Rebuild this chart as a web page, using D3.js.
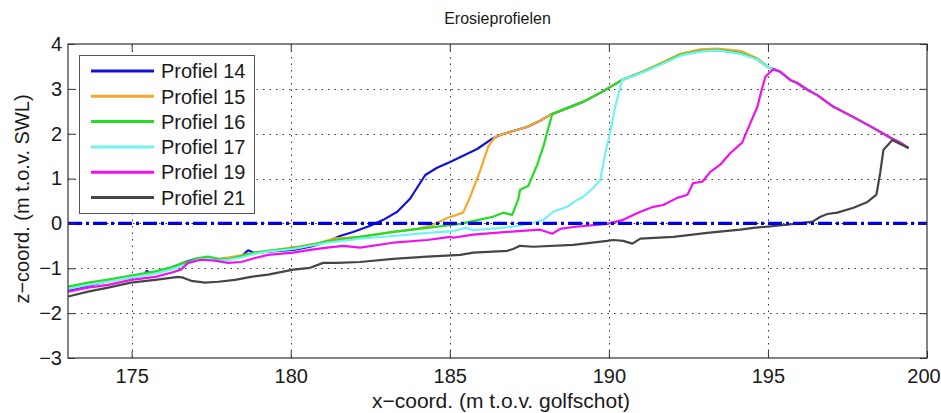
<!DOCTYPE html>
<html><head><meta charset="utf-8">
<script src="https://cdn.jsdelivr.net/npm/d3@7"></script>
<style>
body{margin:0;background:#fff}
svg{display:block}
text{font-family:"Liberation Sans",Arial,Helvetica,sans-serif;fill:#1a1a1a}
</style>
</head><body>
<svg id="chart" width="941" height="413"></svg>
<script>
// ---- data ----
const chartTitle = "Erosieprofielen";
const xLabel = "x\u2212coord. (m t.o.v. golfschot)";
const zLabel = "z\u2212coord. (m t.o.v. SWL)";
const xTicks = [175, 180, 185, 190, 195, 200];
const zTicks = [-3, -2, -1, 0, 1, 2, 3, 4];
const seriesNames = ["Profiel 14", "Profiel 15", "Profiel 16", "Profiel 17", "Profiel 19", "Profiel 21"];

const profiel14 = [[173.00,-1.48],[173.63,-1.39],[174.26,-1.29],[174.98,-1.19],[175.40,-1.13],[175.48,-1.06],[175.60,-1.12],[175.74,-1.09],[176.24,-0.99],[176.55,-0.90],[176.77,-0.84],[177.09,-0.78],[177.40,-0.77],[177.72,-0.81],[178.03,-0.80],[178.44,-0.74],[178.66,-0.60],[178.85,-0.66],[179.29,-0.63],[180.08,-0.59],[180.61,-0.52],[181.14,-0.41],[181.55,-0.28],[181.96,-0.19],[182.50,-0.05],[182.91,0.08],[183.35,0.26],[183.75,0.55],[184.23,1.08],[184.60,1.24],[185.01,1.37],[185.42,1.51],[185.86,1.66],[186.36,1.90],[186.58,1.97],[186.99,2.06],[187.43,2.15],[187.84,2.29],[188.16,2.42],[188.69,2.57],[189.19,2.71],[189.73,2.91],[190.42,3.20],[191.08,3.38],[191.62,3.55],[192.25,3.76],[192.87,3.84],[193.41,3.87],[194.13,3.80],[194.64,3.67],[195.04,3.47],[195.17,3.44],[195.39,3.38],[195.70,3.20],[195.92,3.13],[196.24,2.98],[196.55,2.86],[197.06,2.60],[197.69,2.37],[198.31,2.13],[198.85,1.91],[199.16,1.80],[199.42,1.68]];

const profiel15 = [[173.00,-1.44],[173.63,-1.35],[174.26,-1.27],[174.98,-1.18],[175.74,-1.08],[176.24,-0.99],[176.68,-0.88],[177.09,-0.80],[177.40,-0.77],[177.72,-0.79],[178.03,-0.76],[178.44,-0.71],[178.88,-0.65],[179.29,-0.61],[180.30,-0.51],[180.92,-0.43],[181.33,-0.34],[182.18,-0.30],[183.03,-0.21],[183.97,-0.12],[184.48,-0.03],[184.92,0.12],[185.42,0.24],[185.64,0.59],[185.96,1.19],[186.21,1.71],[186.42,1.93],[186.58,1.97],[186.99,2.06],[187.43,2.15],[187.84,2.29],[188.16,2.42],[188.69,2.57],[189.19,2.71],[189.73,2.91],[190.42,3.20],[191.08,3.39],[191.62,3.57],[192.25,3.78],[192.87,3.88],[193.41,3.90],[194.13,3.85],[194.64,3.69],[195.04,3.47],[195.17,3.44],[195.39,3.38],[195.70,3.20],[195.92,3.13],[196.24,2.98],[196.55,2.86],[197.06,2.60],[197.69,2.37],[198.31,2.13],[198.85,1.91],[199.16,1.80],[199.42,1.68]];

const profiel16 = [[173.00,-1.41],[173.63,-1.32],[174.26,-1.25],[174.98,-1.16],[175.74,-1.07],[176.24,-0.98],[176.68,-0.87],[177.09,-0.77],[177.40,-0.74],[177.72,-0.79],[178.03,-0.80],[178.44,-0.73],[178.88,-0.65],[179.29,-0.61],[180.08,-0.55],[180.61,-0.48],[181.14,-0.40],[182.18,-0.30],[183.22,-0.19],[184.29,-0.10],[185.11,-0.03],[185.33,-0.01],[186.05,0.10],[186.36,0.15],[186.68,0.24],[186.96,0.19],[187.15,0.53],[187.21,0.75],[187.47,0.84],[187.75,1.31],[187.94,1.71],[188.22,2.44],[188.69,2.57],[189.19,2.71],[189.73,2.91],[190.42,3.20],[191.08,3.38],[191.62,3.55],[192.25,3.76],[192.87,3.84],[193.41,3.87],[194.13,3.80],[194.64,3.67],[195.04,3.47],[195.17,3.44],[195.39,3.38],[195.70,3.20],[195.92,3.13],[196.24,2.98],[196.55,2.86],[197.06,2.60],[197.69,2.37],[198.31,2.13],[198.85,1.91],[199.16,1.80],[199.42,1.68]];

const profiel17 = [[173.00,-1.46],[173.63,-1.37],[174.26,-1.30],[174.98,-1.21],[175.74,-1.12],[176.24,-1.03],[176.68,-0.92],[177.09,-0.81],[177.40,-0.79],[177.72,-0.83],[178.03,-0.81],[178.44,-0.76],[178.88,-0.68],[179.29,-0.63],[180.08,-0.57],[181.14,-0.43],[182.18,-0.34],[183.22,-0.28],[184.29,-0.21],[185.11,-0.17],[185.50,-0.10],[185.74,-0.15],[186.81,-0.09],[187.62,0.01],[187.94,0.08],[188.25,0.26],[188.69,0.37],[189.01,0.53],[189.19,0.59],[189.51,0.79],[189.73,0.97],[189.89,1.57],[190.04,2.02],[190.20,2.60],[190.42,3.20],[191.08,3.37],[191.62,3.54],[192.25,3.74],[192.87,3.83],[193.41,3.86],[194.13,3.78],[194.64,3.66],[195.04,3.47],[195.17,3.44],[195.39,3.38],[195.70,3.20],[195.92,3.13],[196.24,2.98],[196.55,2.86],[197.06,2.60],[197.69,2.37],[198.31,2.13],[198.85,1.91],[199.16,1.80],[199.42,1.68]];

const profiel19 = [[173.00,-1.52],[173.63,-1.43],[174.26,-1.37],[174.98,-1.26],[175.74,-1.19],[176.24,-1.10],[176.55,-1.03],[176.77,-0.88],[177.18,-0.81],[177.62,-0.83],[178.03,-0.88],[178.44,-0.86],[178.88,-0.77],[179.29,-0.70],[180.08,-0.65],[180.61,-0.59],[181.14,-0.54],[181.65,-0.50],[182.18,-0.54],[183.22,-0.43],[184.29,-0.37],[185.01,-0.30],[185.11,-0.32],[185.74,-0.25],[186.81,-0.19],[187.84,-0.14],[188.06,-0.19],[188.22,-0.23],[188.47,-0.12],[188.88,-0.08],[189.95,-0.01],[190.45,0.08],[190.99,0.26],[191.40,0.37],[191.71,0.41],[192.15,0.57],[192.47,0.64],[192.65,0.90],[192.94,0.93],[193.19,1.15],[193.50,1.31],[193.82,1.57],[194.19,1.80],[194.45,2.24],[194.67,2.60],[194.76,2.86],[194.92,3.27],[195.17,3.44],[195.39,3.38],[195.70,3.20],[195.92,3.13],[196.24,2.98],[196.55,2.86],[197.06,2.60],[197.69,2.37],[198.31,2.13],[198.85,1.91],[199.16,1.80],[199.42,1.68]];

const profiel21 = [[173.00,-1.63],[173.63,-1.52],[174.26,-1.43],[174.98,-1.32],[175.74,-1.26],[176.46,-1.19],[176.62,-1.21],[176.87,-1.28],[177.31,-1.32],[177.72,-1.30],[178.25,-1.26],[178.75,-1.19],[179.29,-1.14],[180.08,-1.03],[180.61,-0.99],[181.02,-0.88],[181.46,-0.88],[182.18,-0.86],[183.22,-0.79],[184.29,-0.74],[185.33,-0.70],[185.74,-0.65],[186.81,-0.61],[186.99,-0.57],[187.21,-0.50],[187.62,-0.52],[188.88,-0.48],[189.95,-0.39],[190.14,-0.37],[190.45,-0.39],[190.74,-0.45],[190.99,-0.34],[192.03,-0.30],[193.09,-0.21],[194.13,-0.14],[194.54,-0.10],[195.61,-0.03],[196.40,0.04],[196.65,0.15],[196.87,0.21],[197.18,0.24],[197.69,0.35],[198.13,0.48],[198.41,0.64],[198.53,1.13],[198.63,1.64],[198.91,1.86],[199.16,1.77],[199.42,1.68]];

const swlLevel = [0];

// ---- styles ----
const seriesColors = ["#1111dd", "#f5a82a", "#22dd22", "#6ff3f3", "#f011f0", "#454545"];
const W = 941, H = 413;
const M = {left: 68, right: 14, top: 44, bottom: 55};

const svg = d3.select("#chart");
const x = d3.scaleLinear().domain([173, 200]).range([M.left, W - M.right]);
const y = d3.scaleLinear().domain([-3, 4]).range([H - M.bottom, M.top]);

const allSeries = [profiel14, profiel15, profiel16, profiel17, profiel19, profiel21];

svg.append("defs").append("clipPath").attr("id", "clip")
  .append("rect").attr("x", M.left).attr("y", M.top)
  .attr("width", x.range()[1] - M.left).attr("height", y.range()[0] - M.top);

// grid
const grid = svg.append("g").attr("stroke", "#333").attr("stroke-width", 1).attr("stroke-dasharray", "1.5,5");
grid.selectAll("line.v").data(xTicks.filter(d => d > 173 && d < 200)).join("line")
  .attr("x1", d => Math.round(x(d)) + 0.5).attr("x2", d => Math.round(x(d)) + 0.5)
  .attr("y1", y(4)).attr("y2", y(-3));
grid.selectAll("line.h").data(zTicks.filter(d => d > -3 && d < 4)).join("line")
  .attr("y1", d => Math.round(y(d)) + 0.5).attr("y2", d => Math.round(y(d)) + 0.5)
  .attr("x1", x(173)).attr("x2", x(200));

// series
const lineGen = d3.line().x(d => x(d[0])).y(d => y(d[1]));
const plotG = svg.append("g").attr("clip-path", "url(#clip)");
plotG.selectAll("path.s").data(allSeries).join("path")
  .attr("fill", "none")
  .attr("stroke", (d, i) => seriesColors[i])
  .attr("stroke-width", 2.2)
  .attr("stroke-linejoin", "round")
  .attr("d", lineGen);

// SWL line
plotG.selectAll("line.swl").data(swlLevel).join("line")
  .attr("x1", x(173)).attr("x2", x(200))
  .attr("y1", d => y(d)).attr("y2", d => y(d))
  .attr("stroke", "#0000e6").attr("stroke-width", 3.2)
  .attr("stroke-dasharray", "14,4,3,4");

// axes
const fmt = d3.format("d");
const axG = svg.append("g");
const bx = axG.append("g").attr("transform", `translate(0,${y(-3)})`)
  .call(d3.axisBottom(x).tickValues(xTicks).tickFormat(fmt).tickSize(-7).tickPadding(11));
axG.append("g").attr("transform", `translate(0,${y(4)})`)
  .call(d3.axisTop(x).tickValues(xTicks).tickSize(-7).tickFormat(""));
axG.append("g").attr("transform", `translate(${x(173)},0)`)
  .call(d3.axisLeft(y).tickValues(zTicks).tickFormat(fmt).tickSize(-7).tickPadding(6));
axG.append("g").attr("transform", `translate(${x(200)},0)`)
  .call(d3.axisRight(y).tickValues(zTicks).tickSize(-7).tickFormat(""));
axG.selectAll(".domain").remove();
axG.selectAll(".tick line").attr("stroke", "#333").attr("stroke-width", 1);
axG.selectAll(".tick text").attr("font-size", 20).attr("fill", "#1a1a1a")
  .style("font-family", '"Liberation Sans", Arial, sans-serif');
// keep the last x label inside the window
bx.selectAll(".tick text").filter(d => d === 200).attr("dx", -3.5);

// box
svg.append("rect").attr("x", x(173)).attr("y", y(4))
  .attr("width", x(200) - x(173)).attr("height", y(-3) - y(4))
  .attr("fill", "none").attr("stroke", "#333").attr("stroke-width", 1.2);

// labels
svg.append("text").attr("x", (x(173) + x(200)) / 2).attr("y", 24)
  .attr("text-anchor", "middle").attr("font-size", 16).text(chartTitle);
svg.append("text").attr("x", 501).attr("y", 408)
  .attr("text-anchor", "middle").attr("font-size", 21).text(xLabel);
svg.append("text").attr("transform", "translate(29,199) rotate(-90)")
  .attr("text-anchor", "middle").attr("font-size", 20).text(zLabel);

// legend
const lg = svg.append("g");
lg.append("rect").attr("x", 79.5).attr("y", 55.5).attr("width", 175).attr("height", 158)
  .attr("fill", "#fff").attr("stroke", "#555").attr("stroke-width", 1);
const items = lg.selectAll("g.item").data(seriesNames).join("g")
  .attr("transform", (d, i) => `translate(0,${71 + i * 25.3})`);
items.append("line").attr("x1", 91).attr("x2", 154).attr("y1", 0).attr("y2", 0)
  .attr("stroke", (d, i) => seriesColors[i]).attr("stroke-width", 3);
items.append("text").attr("x", 161).attr("y", 0).attr("dy", "0.36em")
  .attr("font-size", 20).text(d => d);
</script>
</body></html>
